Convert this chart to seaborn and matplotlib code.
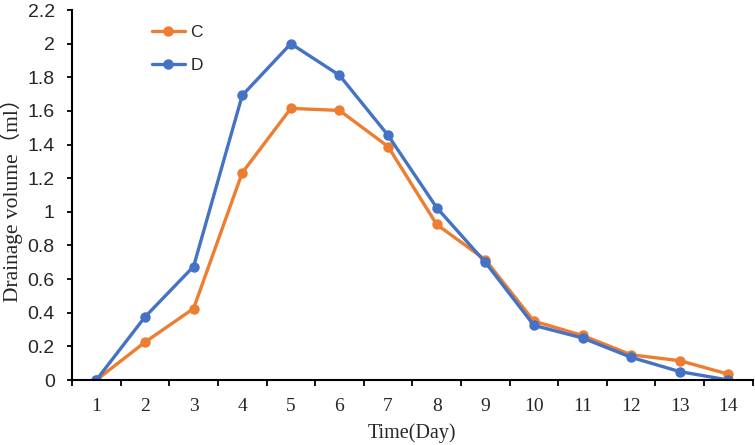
import numpy as np
import pandas as pd
import matplotlib
matplotlib.use('Agg')
import matplotlib.pyplot as plt
from matplotlib.ticker import FixedLocator, NullFormatter
import seaborn as sns

# 数据
DAYS = list(range(1, 15))
C_VALUES = [0, 0.225, 0.425, 1.232, 1.615, 1.603, 1.388, 0.925, 0.715, 0.35, 0.265, 0.15, 0.115, 0.035]
D_VALUES = [0, 0.375, 0.675, 1.692, 2.0, 1.812, 1.455, 1.025, 0.70, 0.325, 0.25, 0.135, 0.05, 0.0]
SERIES = ['C', 'D']
COLORS = {'C': '#ED7D31', 'D': '#4472C4'}
Y_TICKS = [0, 0.2, 0.4, 0.6, 0.8, 1, 1.2, 1.4, 1.6, 1.8, 2, 2.2]
Y_TICK_LABELS = ['0', '0.2', '0.4', '0.6', '0.8', '1', '1.2', '1.4', '1.6', '1.8', '2', '2.2']

sns.set_theme(style='white')
plt.rcParams['font.family'] = ['Liberation Sans', 'DejaVu Sans']

df = pd.DataFrame({
    'Day': DAYS * 2,
    'Value': C_VALUES + D_VALUES,
    'Series': ['C'] * len(DAYS) + ['D'] * len(DAYS),
})

fig = plt.figure(figsize=(7.55, 4.45), dpi=100)
ax = fig.add_axes([0.0954, 0.146, 0.9016, 0.8315])

for s in SERIES:
    sns.lineplot(data=df[df['Series'] == s], x='Day', y='Value',
                 color=COLORS[s], marker='o', markersize=7.5,
                 markeredgewidth=0, linewidth=2.4, label=s, ax=ax)

ax.set_xlim(0.5, 14.5)
ax.set_ylim(0, 2.2)

# 坐标轴样式
for side in ['top', 'right']:
    ax.spines[side].set_visible(False)
for side in ['left', 'bottom']:
    ax.spines[side].set_color('black')
    ax.spines[side].set_linewidth(1.5)

ax.set_yticks(Y_TICKS)
ax.set_yticklabels(Y_TICK_LABELS, fontsize=14, family=['Liberation Sans'])
ax.tick_params(axis='y', direction='out', length=3.5, width=1.3, pad=9, color='black', left=True)

ax.set_xticks(DAYS)
ax.set_xticklabels([str(d) for d in DAYS], fontsize=14, family=['Liberation Serif'])
ax.tick_params(axis='x', which='major', length=0, pad=13)
ax.xaxis.set_minor_locator(FixedLocator(np.arange(0.5, 15, 1.0)))
ax.xaxis.set_minor_formatter(NullFormatter())
ax.tick_params(axis='x', which='minor', direction='out', length=4, width=1.3, color='black', bottom=True)

ax.set_xlabel('Time(Day)', fontsize=14.5, family=['Liberation Serif'], labelpad=6)
ax.set_ylabel('Drainage volume（ml）', fontsize=15.5,
              family=['Liberation Serif', 'Noto Sans CJK SC'], labelpad=3)
ax.grid(False)

leg = ax.legend(loc='upper left', bbox_to_anchor=(0.2013, 0.945),
                bbox_transform=fig.transFigure, frameon=False,
                fontsize=12.5, handlelength=1.9, handletextpad=0.3,
                labelspacing=1.05, borderpad=0, borderaxespad=0)

fig.savefig('out.png', dpi=100)
